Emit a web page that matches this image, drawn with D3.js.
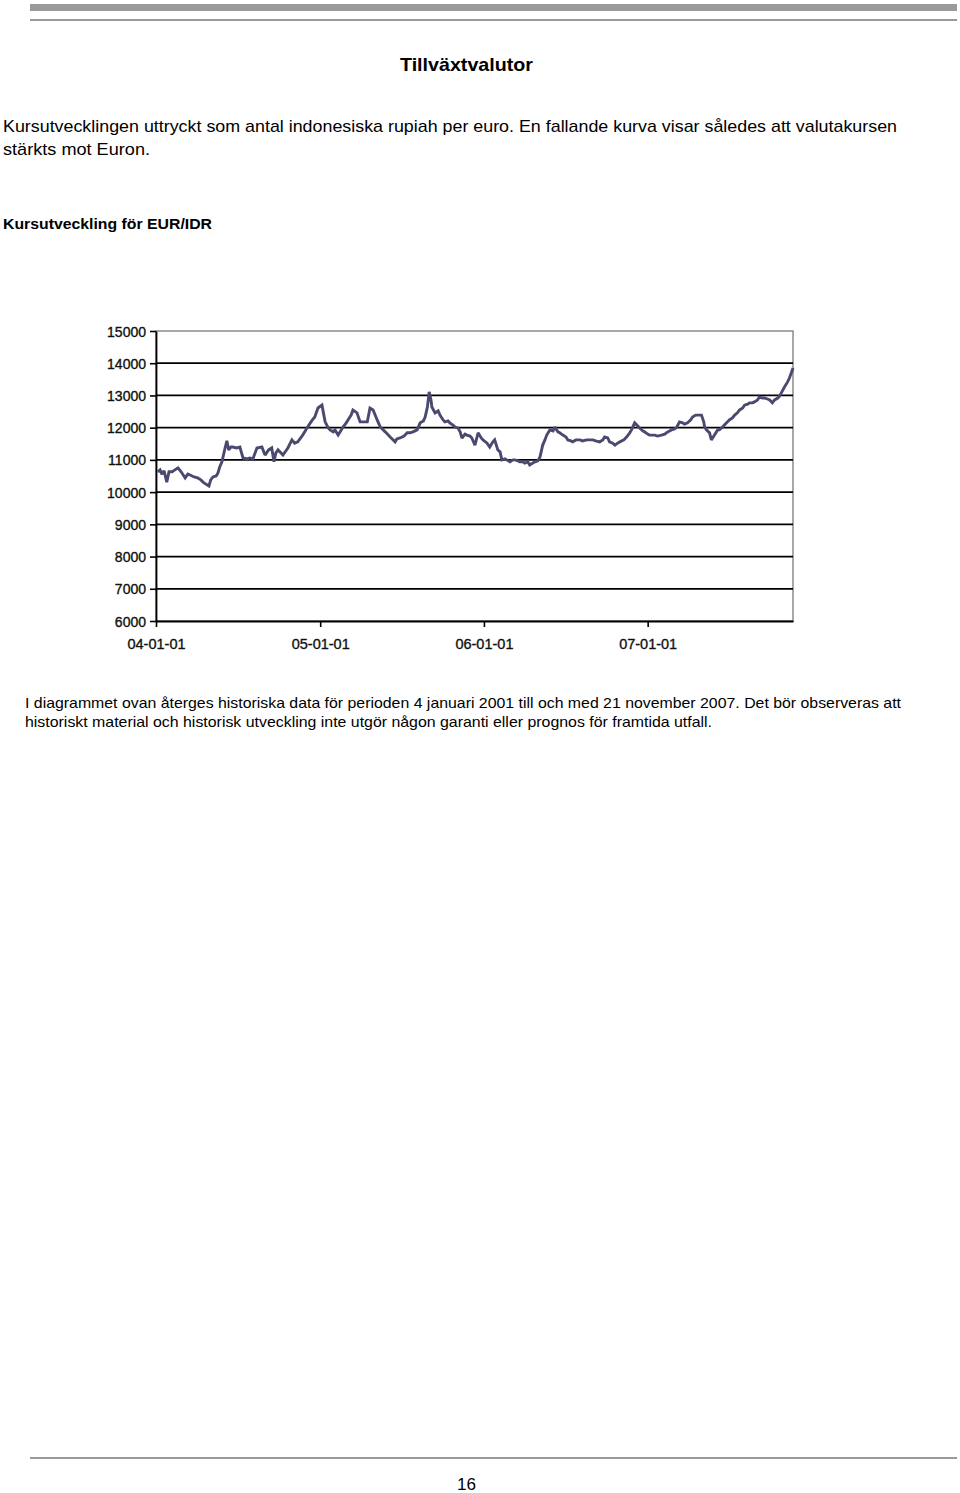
<!DOCTYPE html>
<html><head><meta charset="utf-8">
<script src="https://cdn.jsdelivr.net/npm/d3@7"></script>
<style>
html,body{margin:0;padding:0;background:#fff;}
svg{display:block;font-family:"Liberation Sans",Arial,sans-serif;}
</style></head>
<body>
<svg id="page" width="960" height="1493"></svg>
<script>
// ---- data ----
const dates = [
"2004-01-05","2004-01-10","2004-01-14","2004-01-19","2004-01-25","2004-01-30","2004-02-06","2004-02-12","2004-02-19","2004-02-26",
"2004-03-06","2004-03-12","2004-03-17","2004-03-26","2004-04-03","2004-04-10","2004-04-15","2004-04-21","2004-04-28","2004-05-02",
"2004-05-07","2004-05-14","2004-05-18","2004-05-22","2004-05-27","2004-06-03","2004-06-07","2004-06-11","2004-06-16","2004-06-20",
"2004-06-29","2004-07-06","2004-07-13","2004-07-22","2004-07-28","2004-08-04","2004-08-13","2004-08-24","2004-08-31","2004-09-08",
"2004-09-15","2004-09-20","2004-09-24","2004-09-29","2004-10-10","2004-10-21","2004-10-30","2004-11-05","2004-11-12","2004-11-23",
"2004-11-30","2004-12-04","2004-12-13","2004-12-20","2004-12-27",
"2005-01-05","2005-01-12","2005-01-19","2005-01-23","2005-01-30","2005-02-03","2005-02-10","2005-02-17","2005-02-21","2005-02-28",
"2005-03-04","2005-03-11","2005-03-15","2005-03-24","2005-03-31","2005-04-07","2005-04-16","2005-04-22","2005-04-29","2005-05-08",
"2005-05-15","2005-05-26","2005-06-06","2005-06-17","2005-06-21","2005-06-28","2005-07-07","2005-07-14","2005-07-20","2005-07-27",
"2005-08-05","2005-08-12","2005-08-19","2005-08-23","2005-08-28","2005-09-01","2005-09-05","2005-09-07","2005-09-14","2005-09-21",
"2005-09-25","2005-10-02","2005-10-06","2005-10-13","2005-10-17","2005-10-24","2005-10-29","2005-11-04","2005-11-09","2005-11-13",
"2005-11-20","2005-11-24","2005-12-01","2005-12-05","2005-12-12","2005-12-19","2005-12-26","2005-12-30",
"2006-01-08","2006-01-14","2006-01-21","2006-01-25","2006-02-01","2006-02-06","2006-02-10","2006-02-17","2006-02-21","2006-02-28",
"2006-03-07","2006-03-11","2006-03-18","2006-03-22","2006-03-29","2006-04-02","2006-04-09","2006-04-13","2006-04-20","2006-04-25",
"2006-05-01","2006-05-06","2006-05-12","2006-05-17","2006-05-21","2006-05-28","2006-06-04","2006-06-08","2006-06-15","2006-06-19",
"2006-06-26","2006-07-03","2006-07-07","2006-07-14","2006-07-18","2006-07-25","2006-08-03","2006-08-09","2006-08-18","2006-08-25",
"2006-09-01","2006-09-07","2006-09-16","2006-09-23","2006-09-27","2006-10-04","2006-10-08","2006-10-15","2006-10-20","2006-10-26",
"2006-10-31","2006-11-09","2006-11-15","2006-11-22","2006-11-26","2006-12-03","2006-12-08","2006-12-14","2006-12-21","2006-12-25",
"2007-01-01","2007-01-05","2007-01-17","2007-01-23","2007-02-01","2007-02-08","2007-02-12","2007-02-19","2007-02-23","2007-03-02",
"2007-03-07","2007-03-13","2007-03-20","2007-03-24","2007-03-31","2007-04-07","2007-04-11","2007-04-18","2007-04-22","2007-05-01",
"2007-05-06","2007-05-08","2007-05-12","2007-05-19","2007-05-23","2007-05-30","2007-06-06","2007-06-10","2007-06-17","2007-06-21",
"2007-06-28","2007-07-02","2007-07-09","2007-07-14","2007-07-20","2007-07-25","2007-08-01","2007-08-05","2007-08-12","2007-08-16",
"2007-08-23","2007-08-27","2007-09-03","2007-09-07","2007-09-14","2007-09-19","2007-09-25","2007-09-30","2007-10-06","2007-10-11",
"2007-10-18","2007-10-22","2007-10-26","2007-11-02","2007-11-09","2007-11-13","2007-11-18","2007-11-21"
];
const rates = [
10630,10690,10560,10660,10310,10630,10630,10690,10750,10630,
10440,10560,10530,10470,10440,10380,10310,10250,10190,10380,
10470,10500,10590,10780,10940,11370,11590,11310,11400,11400,
11370,11400,11060,11030,11060,11030,11370,11400,11150,11310,
11370,10940,11210,11310,11150,11370,11620,11520,11560,11770,
11930,12020,12210,12330,12610,
12700,12180,11990,11930,11870,11930,11770,11930,12020,12150,
12240,12390,12550,12460,12180,12180,12180,12610,12550,12240,
12020,11870,11710,11560,11650,11680,11740,11840,11840,11870,
11930,12150,12210,12330,12640,13110,12860,12640,12460,12520,
12390,12240,12180,12210,12150,12080,12020,11990,11870,11680,
11800,11770,11740,11680,11460,11840,11680,11620,
11520,11400,11560,11620,11310,11250,11000,11030,11000,10940,
11000,11000,10970,10940,10940,10900,10940,10840,10900,10940,
10970,11090,11460,11620,11770,11930,11900,12020,11870,11840,
11770,11710,11620,11590,11560,11620,11620,11590,11620,11620,
11620,11590,11560,11620,11710,11680,11560,11520,11460,11520,
11560,11620,11710,11840,11930,12150,12080,11990,11900,11870,
11800,11770,11770,11740,11770,11800,11840,11900,11930,11960,
12020,12180,12150,12110,12150,12240,12330,12390,12390,12390,
12180,12020,11930,11840,11620,11770,11930,11930,12020,12080,
12180,12240,12300,12390,12460,12550,12610,12700,12730,12770,
12770,12800,12860,12950,12920,12920,12890,12860,12770,12860,
12920,12980,13080,13260,13420,13540,13730,13850
];
const yTicks = [6000,7000,8000,9000,10000,11000,12000,13000,14000,15000];
const xTickDates = ["2004-01-01","2005-01-01","2006-01-01","2007-01-01"];
const xDomain = ["2004-01-01","2007-11-21"];

const pageTitle = "Tillväxtvalutor";
const introLines = [
  "Kursutvecklingen uttryckt som antal indonesiska rupiah per euro. En fallande kurva visar således att valutakursen",
  "stärkts mot Euron."
];
const chartTitle = "Kursutveckling för EUR/IDR";
const noteLines = [
  "I diagrammet ovan återges historiska data för perioden 4 januari 2001 till och med 21 november 2007. Det bör observeras att",
  "historiskt material och historisk utveckling inte utgör någon garanti eller prognos för framtida utfall."
];
const pageNumber = "16";

// ---- drawing ----
const svg = d3.select("#page");
const parse = d3.timeParse("%Y-%m-%d");

// header rules
svg.append("rect").attr("x",30).attr("y",4).attr("width",927).attr("height",7).attr("fill","#9a9a9a");
svg.append("rect").attr("x",30).attr("y",19).attr("width",927).attr("height",2).attr("fill","#9a9a9a");
// footer rule
svg.append("rect").attr("x",30).attr("y",1457).attr("width",927).attr("height",2).attr("fill","#9a9a9a");

function fitText(x, y, str, size, weight, width, anchor){
  return svg.append("text").attr("x",x).attr("y",y)
    .attr("font-size",size).attr("font-weight",weight||"normal")
    .attr("text-anchor",anchor||"start")
    .attr("textLength",width).attr("lengthAdjust","spacingAndGlyphs")
    .attr("fill","#000").text(str);
}
fitText(400, 71, pageTitle, 18.5, "bold", 133);
fitText(3, 132, introLines[0], 17, "normal", 894);
fitText(3, 155, introLines[1], 17, "normal", 147);
fitText(3, 229, chartTitle, 15, "bold", 209);
fitText(25, 708, noteLines[0], 15, "normal", 876);
fitText(25, 727, noteLines[1], 15, "normal", 687);
fitText(457, 1490, pageNumber, 16.5, "normal", 19);

// chart
const x = d3.scaleTime().domain(xDomain.map(parse)).range([156, 793]);
const y = d3.scaleLinear().domain([6000, 15000]).range([621, 331]);
const g = svg.append("g");

// plot border (grey) top + right
g.append("rect").attr("x",156).attr("y",y(15000)).attr("width",793-156).attr("height",y(6000)-y(15000))
  .attr("fill","none").attr("stroke","#8c8c8c").attr("stroke-width",1.5);

// gridlines
g.append("g").selectAll("line").data(yTicks.filter(v=>v>6000 && v<15000)).join("line")
  .attr("x1",156).attr("x2",793).attr("y1",d=>y(d)).attr("y2",d=>y(d))
  .attr("stroke","#000").attr("stroke-width",1.8);

// y axis
const yAxis = g.append("g").attr("transform","translate(156,0)")
  .call(d3.axisLeft(y).tickValues(yTicks).tickSize(6).tickSizeOuter(0).tickPadding(4).tickFormat(d3.format("d")));
yAxis.select(".domain").attr("stroke","#000").attr("stroke-width",1.8);
yAxis.selectAll(".tick line").attr("stroke","#000").attr("stroke-width",1.6);
yAxis.selectAll(".tick text").attr("font-size",14).attr("font-family","Liberation Sans, Arial, sans-serif")
  .attr("fill","#111").attr("stroke","#111").attr("stroke-width",0.35).attr("dy","0.36em");

// x axis
const xAxis = g.append("g").attr("transform",`translate(0,${y(6000)})`)
  .call(d3.axisBottom(x).tickValues(xTickDates.map(parse)).tickSize(6).tickSizeOuter(0).tickPadding(12)
    .tickFormat(d3.timeFormat("%y-%m-%d")));
xAxis.select(".domain").attr("stroke","#000").attr("stroke-width",1.8);
xAxis.selectAll(".tick line").attr("stroke","#000").attr("stroke-width",1.6);
xAxis.selectAll(".tick text").attr("font-size",14.5).attr("font-family","Liberation Sans, Arial, sans-serif")
  .attr("fill","#111").attr("stroke","#111").attr("stroke-width",0.35);

// series
const series = dates.map((d,i)=>({date:parse(d), value:rates[i]}));
g.append("path").datum(series)
  .attr("fill","none").attr("stroke","#4a4a70").attr("stroke-width",2.9)
  .attr("stroke-linejoin","miter").attr("stroke-miterlimit",2)
  .attr("d", d3.line().x(d=>x(d.date)).y(d=>y(d.value)));
</script>
</body></html>
